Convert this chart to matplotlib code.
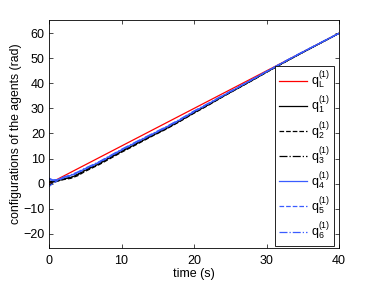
import matplotlib
matplotlib.use('Agg')
import matplotlib.pyplot as plt

plt.rcParams['font.family'] = ['Liberation Sans', 'DejaVu Sans']
plt.rcParams['mathtext.fontset'] = 'custom'
plt.rcParams['mathtext.rm'] = 'Liberation Sans'
plt.rcParams['mathtext.it'] = 'Liberation Sans'

# leader trajectory
leader_t = [0, 40]
leader_q = [0, 60]

# follower samples
t = [0, 0.5, 1, 1.5, 2, 3, 4, 5, 6, 7, 8, 9, 10, 12, 14, 16, 18, 20,
     22, 24, 26, 28, 30, 32, 34, 36, 38, 40]
q1 = [0.5, 0.6, 1.0, 1.4, 1.8, 2.4, 3.6, 5.3, 6.6, 8.0, 9.7, 11.2, 12.8, 15.8,
      18.8, 21.7, 24.9, 28.3, 31.5, 34.8, 38.0, 41.2, 44.5, 47.7, 50.8, 53.9, 56.9, 60]
q2 = [-0.5, 0.2, 0.8, 1.2, 1.6, 2.1, 3.2, 4.9, 6.3, 7.7, 9.3, 10.9, 12.5, 15.5,
      18.6, 21.5, 24.7, 28.1, 31.3, 34.7, 37.9, 41.1, 44.4, 47.6, 50.8, 53.9, 56.9, 60]
q3 = [1.0, 0.8, 1.1, 1.5, 1.9, 2.6, 3.8, 5.5, 6.8, 8.3, 9.9, 11.5, 13.0, 16.0,
      19.0, 21.9, 25.0, 28.4, 31.6, 34.9, 38.1, 41.3, 44.6, 47.8, 50.9, 53.9, 57.0, 60]
q4 = [1.8, 1.2, 1.4, 1.9, 2.4, 3.3, 4.5, 6.0, 7.3, 8.7, 10.3, 11.9, 13.5, 16.5,
      19.4, 22.3, 25.4, 28.8, 31.9, 35.1, 38.3, 41.5, 44.7, 47.9, 51.0, 54.0, 57.0, 60]
q5 = [-1.2, 0.0, 0.9, 1.6, 2.2, 3.1, 4.3, 5.8, 7.1, 8.5, 10.1, 11.7, 13.3, 16.3,
      19.2, 22.1, 25.2, 28.6, 31.8, 35.0, 38.2, 41.4, 44.6, 47.8, 50.9, 54.0, 57.0, 60]
q6 = [2.2, 1.5, 1.6, 2.0, 2.6, 3.5, 4.7, 6.2, 7.5, 8.9, 10.5, 12.1, 13.7, 16.7,
      19.6, 22.5, 25.6, 29.0, 32.1, 35.3, 38.4, 41.6, 44.8, 48.0, 51.1, 54.1, 57.1, 60]

blue = '#3a5cff'

fig = plt.figure(figsize=(3.74, 2.81), dpi=100)
ax = fig.add_axes([49 / 374, 33 / 281, 290 / 374, 228 / 281])

ax.plot(leader_t, leader_q, color='red', lw=0.9, label=r'q$_L^{(1)}$')
ax.plot(t, q1, color='black', ls='-', lw=0.9, label=r'q$_1^{(1)}$')
ax.plot(t, q2, color='black', ls='--', lw=0.9, label=r'q$_2^{(1)}$')
ax.plot(t, q3, color='black', ls='-.', lw=0.9, label=r'q$_3^{(1)}$')
ax.plot(t, q4, color=blue, ls='-', lw=0.9, label=r'q$_4^{(1)}$')
ax.plot(t, q5, color=blue, ls='--', lw=0.9, label=r'q$_5^{(1)}$')
ax.plot(t, q6, color=blue, ls='-.', lw=0.9, label=r'q$_6^{(1)}$')

ax.set_xlim(0, 40)
ax.set_ylim(-25.7, 65.3)
ax.set_xticks([0, 10, 20, 30, 40])
ax.set_yticks([-20, -10, 0, 10, 20, 30, 40, 50, 60])
ax.tick_params(direction='in', top=True, right=True, labelsize=9,
               length=3, width=0.5, pad=3)
ax.tick_params(axis='x', pad=5)
for s in ax.spines.values():
    s.set_linewidth(0.6)

ax.set_xlabel('time (s)', fontsize=9, labelpad=1)
ax.set_ylabel('configurations of the agents (rad)', fontsize=8.8, labelpad=1)

leg = ax.legend(loc='lower right', bbox_to_anchor=(0.983, 0.009), fontsize=9,
                fancybox=False, edgecolor='black', framealpha=1,
                handlelength=2.3, handletextpad=0.3, labelspacing=0.28,
                borderpad=0.3, borderaxespad=0)
leg.get_frame().set_linewidth(0.6)

fig.savefig('out.png', dpi=100)
